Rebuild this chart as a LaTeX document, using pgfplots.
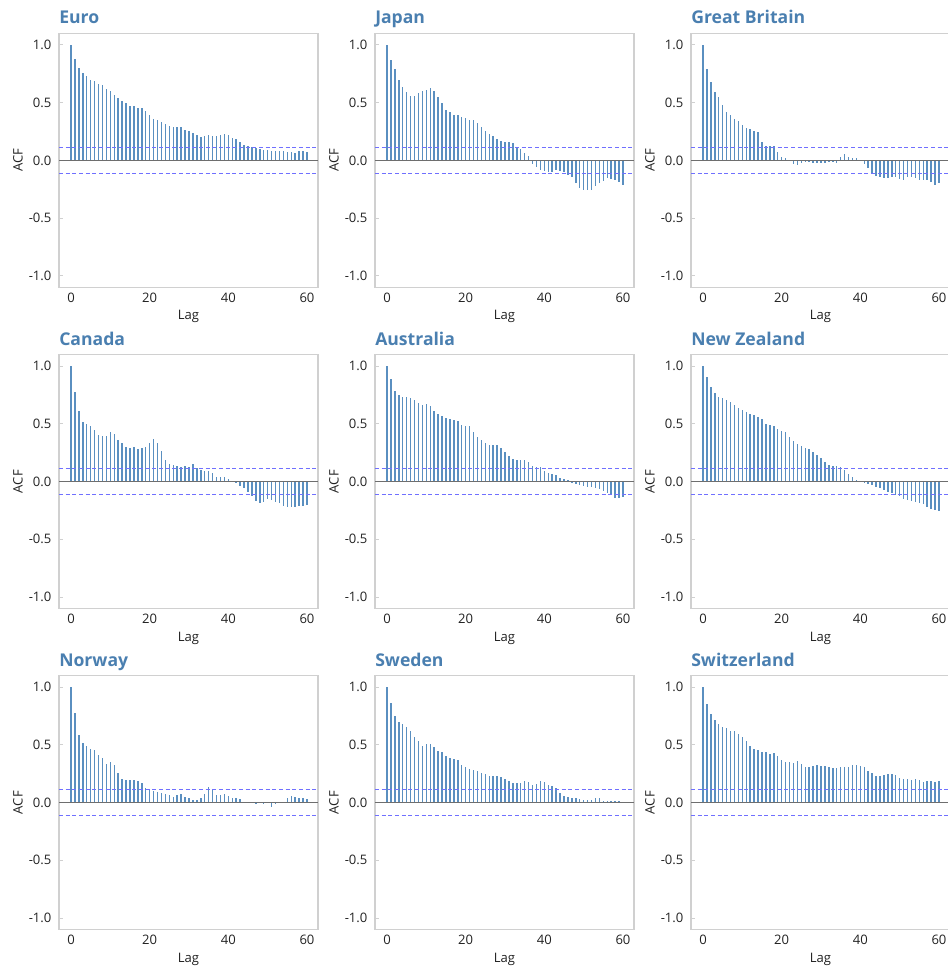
\documentclass[border=0pt]{standalone}
\usepackage{fontspec}
\setmainfont{Open Sans}
\usepackage{pgfplots}
\usepackage{pgfplotstable}
\pgfplotsset{compat=1.18}
\definecolor{titleblue}{HTML}{4A7FB0}
\definecolor{barblue}{HTML}{5A8FC0}
\definecolor{confblue}{HTML}{7070FF}
\definecolor{framegray}{HTML}{D0D0D0}
\definecolor{zerogray}{HTML}{6E6E6E}
\definecolor{textgray}{HTML}{222222}

\pgfplotstableread{
lag euro japan gb canada australia nz norway sweden swiss
0 1.000 1.000 1.000 1.000 1.000 1.000 1.000 1.000 1.000
1 0.880 0.870 0.790 0.780 0.885 0.902 0.780 0.861 0.855
2 0.800 0.790 0.680 0.610 0.784 0.816 0.584 0.746 0.769
3 0.757 0.696 0.590 0.519 0.746 0.767 0.512 0.699 0.714
4 0.730 0.635 0.550 0.496 0.735 0.732 0.486 0.682 0.679
5 0.695 0.590 0.484 0.481 0.735 0.726 0.462 0.653 0.653
6 0.687 0.562 0.420 0.447 0.723 0.709 0.454 0.621 0.650
7 0.660 0.562 0.390 0.400 0.703 0.689 0.416 0.566 0.618
8 0.650 0.583 0.362 0.395 0.677 0.666 0.384 0.534 0.618
9 0.617 0.597 0.345 0.392 0.663 0.634 0.338 0.494 0.592
10 0.603 0.609 0.304 0.432 0.674 0.620 0.353 0.511 0.569
11 0.568 0.623 0.278 0.409 0.651 0.600 0.324 0.506 0.535
12 0.542 0.597 0.272 0.363 0.614 0.588 0.254 0.480 0.488
13 0.513 0.550 0.255 0.331 0.582 0.576 0.202 0.448 0.465
14 0.496 0.500 0.243 0.297 0.568 0.562 0.197 0.434 0.454
15 0.475 0.440 0.160 0.291 0.548 0.539 0.197 0.405 0.439
16 0.467 0.420 0.128 0.297 0.542 0.499 0.197 0.390 0.436
17 0.455 0.390 0.128 0.280 0.533 0.493 0.191 0.376 0.419
18 0.455 0.394 0.128 0.288 0.524 0.481 0.168 0.367 0.428
19 0.426 0.380 0.075 0.303 0.493 0.458 0.124 0.327 0.402
20 0.390 0.371 0.026 0.337 0.481 0.438 0.110 0.306 0.370
21 0.362 0.348 0.017 0.366 0.478 0.427 0.098 0.292 0.355
22 0.354 0.348 -0.009 0.331 0.429 0.389 0.092 0.286 0.350
23 0.330 0.322 -0.029 0.262 0.383 0.354 0.081 0.275 0.341
24 0.319 0.290 -0.041 0.187 0.360 0.323 0.075 0.257 0.358
25 0.300 0.258 -0.023 0.156 0.337 0.308 0.066 0.249 0.332
26 0.287 0.226 -0.012 0.141 0.320 0.288 0.046 0.228 0.306
27 0.287 0.209 -0.017 0.135 0.320 0.280 0.064 0.228 0.306
28 0.287 0.186 -0.020 0.127 0.314 0.256 0.072 0.228 0.315
29 0.267 0.165 -0.020 0.133 0.291 0.231 0.046 0.220 0.324
30 0.255 0.162 -0.023 0.130 0.256 0.205 0.040 0.202 0.321
31 0.240 0.162 -0.026 0.150 0.225 0.167 0.026 0.185 0.315
32 0.220 0.148 -0.017 0.121 0.199 0.144 0.020 0.168 0.309
33 0.200 0.113 -0.012 0.100 0.184 0.133 0.040 0.168 0.301
34 0.210 0.096 -0.023 0.089 0.184 0.133 0.075 0.173 0.301
35 0.220 0.067 0.026 0.095 0.190 0.130 0.133 0.191 0.306
36 0.214 0.035 0.052 0.078 0.173 0.100 0.110 0.176 0.306
37 0.210 -0.029 0.032 0.037 0.133 0.069 0.064 0.150 0.306
38 0.223 -0.058 0.023 0.037 0.124 0.037 0.066 0.159 0.324
39 0.232 -0.087 0.017 0.037 0.124 0.017 0.075 0.185 0.329
40 0.223 -0.096 0.000 0.026 0.095 0.006 0.061 0.182 0.315
41 0.197 -0.100 -0.029 0.000 0.075 -0.009 0.043 0.156 0.306
42 0.183 -0.100 -0.070 -0.012 0.066 -0.020 0.040 0.142 0.275
43 0.160 -0.087 -0.110 -0.035 0.058 -0.032 0.029 0.130 0.254
44 0.130 -0.093 -0.133 -0.058 0.035 -0.043 0.005 0.084 0.234
45 0.122 -0.100 -0.145 -0.092 0.020 -0.055 0.003 0.061 0.231
46 0.116 -0.125 -0.154 -0.121 0.012 -0.072 0.000 0.049 0.240
47 0.110 -0.148 -0.150 -0.164 -0.009 -0.089 -0.006 0.038 0.251
48 0.100 -0.197 -0.148 -0.187 -0.020 -0.101 0.002 0.038 0.249
49 0.093 -0.238 -0.145 -0.173 -0.032 -0.112 -0.005 0.035 0.237
50 0.087 -0.260 -0.160 -0.147 -0.037 -0.124 0.004 0.023 0.217
51 0.081 -0.260 -0.168 -0.156 -0.046 -0.147 -0.035 0.020 0.208
52 0.084 -0.255 -0.145 -0.173 -0.049 -0.158 -0.012 0.026 0.202
53 0.084 -0.226 -0.145 -0.187 -0.052 -0.170 0.003 0.043 0.197
54 0.081 -0.197 -0.150 -0.213 -0.063 -0.173 0.005 0.038 0.205
55 0.075 -0.180 -0.168 -0.216 -0.078 -0.182 0.038 0.014 0.194
56 0.070 -0.150 -0.174 -0.216 -0.095 -0.193 0.058 0.012 0.179
57 0.067 -0.162 -0.171 -0.222 -0.118 -0.216 0.049 0.012 0.185
58 0.084 -0.168 -0.186 -0.213 -0.141 -0.239 0.043 0.012 0.185
59 0.084 -0.190 -0.209 -0.210 -0.141 -0.245 0.040 0.012 0.179
60 0.072 -0.217 -0.197 -0.207 -0.130 -0.256 0.029 0.003 0.185
}\acf

\pgfplotsset{acfpanel/.style={
  scale only axis, width=194.25pt, height=190.5pt, anchor=north west,
  xmin=-3.05, xmax=62.8, ymin=-1.1, ymax=1.1,
  axis line style={framegray, line width=1.1pt},
  xtick={0,20,40,60}, xticklabels={0,20,40,60},
  ytick={-1,-0.5,0,0.5,1}, yticklabels={-1.0,-0.5,0.0,0.5,1.0},
  xtick style={draw=none},
  ytick style={framegray, line width=0.8pt},
  tick align=inside, major tick length=3pt,
  ytick pos=left,
  tick label style={font=\fontsize{9.8}{11}\selectfont, text=textgray},
  xticklabel style={anchor=base, inner sep=0pt, yshift=-11.5pt},
  yticklabel style={anchor=east, inner sep=0pt, xshift=-5.5pt},
  label style={font=\fontsize{9.8}{11}\selectfont, text=textgray},
  xlabel=Lag, ylabel=ACF,
  xlabel style={at={(axis description cs:0.5,-0.128)}, anchor=base, inner sep=0pt},
  ylabel style={at={(axis description cs:-0.1583,0.5)}, anchor=center, inner sep=0pt},
  title style={at={(axis description cs:0,1.006)}, anchor=base west, inner sep=0pt,
    font=\bfseries\fontsize{13.2}{15}\selectfont, text=titleblue},
}}

\newcommand{\acfpanel}[4]{%
  \begin{axis}[acfpanel, at={(#1,#2)}, title={#4}]
    \addplot[ycomb, barblue, line width=1.1pt, mark=none] table[x=lag, y=#3] {\acf};
    \addplot[mark=none, zerogray, line width=0.8pt] coordinates {(-3.05,0) (62.8,0)};
    \addplot[mark=none, confblue, line width=0.8pt, dash pattern=on 3pt off 2pt] coordinates {(-3.05,0.115) (62.8,0.115)};
    \addplot[mark=none, confblue, line width=0.8pt, dash pattern=on 3pt off 2pt] coordinates {(-3.05,-0.115) (62.8,-0.115)};
  \end{axis}}

\begin{document}
\begin{tikzpicture}
\useasboundingbox (0,0) rectangle (711pt,726pt);
\acfpanel{44.25pt}{700.95pt}{euro}{Euro}
\acfpanel{281.25pt}{700.95pt}{japan}{Japan}
\acfpanel{518.25pt}{700.95pt}{gb}{Great Britain}
\acfpanel{44.25pt}{460.05pt}{canada}{Canada}
\acfpanel{281.25pt}{460.05pt}{australia}{Australia}
\acfpanel{518.25pt}{460.05pt}{nz}{New Zealand}
\acfpanel{44.25pt}{219.3pt}{norway}{Norway}
\acfpanel{281.25pt}{219.3pt}{sweden}{Sweden}
\acfpanel{518.25pt}{219.3pt}{swiss}{Switzerland}
\end{tikzpicture}
\end{document}
